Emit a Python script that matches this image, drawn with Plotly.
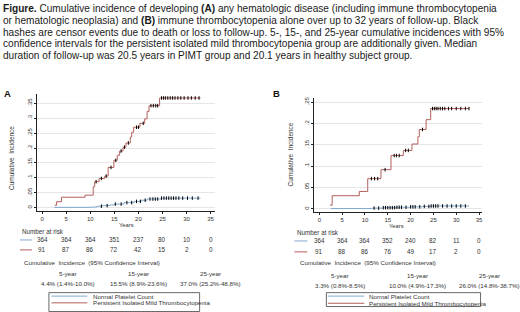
import numpy as np
import plotly.graph_objects as go

W, H = 520, 312

# ---------------- data ----------------
years_ticks = [0, 5, 10, 15, 20, 25, 30, 35]

# Panel A: any hematologic disease
a_red_t = [2.6, 3.0, 4.0, 8.9, 10.6, 10.9, 11.8, 13.0, 13.7, 14.9, 15.6, 16.1, 16.8, 17.4, 18.3, 18.6, 19.0, 20.3, 21.3, 21.8, 22.2, 24.4, 32.9]
a_red_v = [0.008, 0.02, 0.035, 0.042, 0.07, 0.087, 0.098, 0.106, 0.135, 0.159, 0.176, 0.19, 0.203, 0.217, 0.237, 0.253, 0.27, 0.283, 0.298, 0.323, 0.342, 0.368, 0.368]
a_blue_t = [2.5, 10.0, 11.4, 12.5, 14.0, 14.9, 17.0, 19.1, 20.6, 21.8, 24.7, 32.9]
a_blue_v = [0.001, 0.002, 0.005, 0.007, 0.009, 0.012, 0.017, 0.021, 0.025, 0.029, 0.032, 0.032]
a_red_cens = [11.2, 12.3, 13.3, 14.3, 15.3, 16.4, 17.1, 17.9, 19.6, 20.0, 21.0, 22.6, 23.1, 23.6, 24.0, 24.8, 25.2, 25.6, 26.1, 26.6, 27.1, 27.6, 28.2, 28.8, 29.5, 30.3, 31.0, 31.8, 32.6]
a_blue_cens = [12.3, 13.5, 15.2, 16.4, 17.6, 18.6, 19.6, 20.4, 21.4, 22.4, 23.0, 23.5, 24.0, 24.8, 25.3, 25.8, 26.3, 26.8, 27.3, 27.8, 28.4, 29.2, 30.2, 31.2, 32.4]
a_risk_blue = [364, 364, 364, 351, 237, 80, 10, 0]
a_risk_red = [91, 87, 86, 72, 42, 15, 2, 0]
a_ci_labels = ["5-year", "15-year", "25-year"]
a_ci_values = ["4.4% (1.4%-10.0%)", "15.5% (8.9%-23.6%)", "37.0% (25.2%-48.8%)"]
a_yticks = [0, 0.05, 0.1, 0.15, 0.2, 0.25, 0.3, 0.35]
a_yticktext = ["0", ".05", ".1", ".15", ".2", ".25", ".3", ".35"]

# Panel B: immune thrombocytopenia alone
b_red_t = [2.3, 2.8, 8.75, 10.6, 13.5, 15.7, 18.4, 20.3, 21.6, 21.9, 23.4, 24.4, 32.8]
b_red_v = [0.009, 0.031, 0.041, 0.071, 0.092, 0.125, 0.137, 0.152, 0.169, 0.186, 0.209, 0.235, 0.235]
b_blue_t = [2.5, 11.5, 14.0, 17.0, 20.0, 22.5, 24.5, 32.8]
b_blue_v = [0.001, 0.002, 0.003, 0.004, 0.005, 0.006, 0.007, 0.007]
b_red_cens = [11.4, 12.1, 12.8, 14.4, 16.4, 16.9, 17.5, 18.9, 19.5, 22.6, 24.8, 25.2, 25.6, 26.0, 26.5, 27.0, 27.5, 28.3, 29.0, 30.0, 31.0, 32.0, 32.8]
b_blue_cens = [12.0, 13.0, 14.0, 14.5, 15.0, 15.5, 16.0, 16.5, 17.0, 17.5, 18.0, 19.0, 20.0, 20.5, 21.0, 22.0, 23.0, 24.0, 24.5, 25.0, 25.5, 26.0, 27.0, 28.0, 29.0, 30.0, 31.0, 32.0]
b_risk_blue = [364, 364, 364, 352, 240, 82, 11, 0]
b_risk_red = [91, 88, 86, 76, 49, 17, 2, 0]
b_ci_labels = ["5-year", "15-year", "25-year"]
b_ci_values = ["3.3% (0.8%-8.5%)", "10.0% (4.9%-17.3%)", "26.0% (14.8%-38.7%)"]
b_yticks = [0, 0.05, 0.1, 0.15, 0.2, 0.25]
b_yticktext = ["0", ".05", ".1", ".15", ".2", ".25"]

series_names = ["Normal Platelet Count", "Persistent Isolated Mild Thrombocytopenia"]

caption_lines = [
    "<b>Figure.</b> Cumulative incidence of developing <b>(A)</b> any hematologic disease (including immune thrombocytopenia",
    "or hematologic neoplasia) and <b>(B)</b> immune thrombocytopenia alone over up to 32 years of follow-up. Black",
    "hashes are censor events due to death or loss to follow-up. 5-, 15-, and 25-year cumulative incidences with 95%",
    "confidence intervals for the persistent isolated mild thrombocytopenia group are additionally given. Median",
    "duration of follow-up was 20.5 years in PIMT group and 20.1 years in healthy subject group.",
]

BLUE = "#7fa8cf"
RED = "#b3605c"
TXT = "#333333"
FONT = "Liberation Sans, Arial, sans-serif"


def X(px):
    return px / W


def Y(py):
    return 1 - py / H


def step_at(t, v, q):
    t = np.asarray(t)
    v = np.asarray(v)
    idx = np.searchsorted(t, np.asarray(q), side="right") - 1
    idx = np.clip(idx, 0, len(v) - 1)
    return v[idx]


fig = go.Figure()

panels = [
    dict(xa="x", ya="y", red=(a_red_t, a_red_v), blue=(a_blue_t, a_blue_v),
         rc=a_red_cens, bc=a_blue_cens),
    dict(xa="x2", ya="y2", red=(b_red_t, b_red_v), blue=(b_blue_t, b_blue_v),
         rc=b_red_cens, bc=b_blue_cens),
]

for p in panels:
    fig.add_trace(go.Scatter(x=p["blue"][0], y=p["blue"][1], mode="lines",
                             line=dict(color=BLUE, width=1, shape="hv"),
                             name=series_names[0], xaxis=p["xa"], yaxis=p["ya"], showlegend=False))
    fig.add_trace(go.Scatter(x=p["red"][0], y=p["red"][1], mode="lines",
                             line=dict(color=RED, width=1, shape="hv"),
                             name=series_names[1], xaxis=p["xa"], yaxis=p["ya"], showlegend=False))
    for cens, (t, v) in ((p["bc"], p["blue"]), (p["rc"], p["red"])):
        fig.add_trace(go.Scatter(x=cens, y=step_at(t, v, cens), mode="markers",
                                 marker=dict(symbol="line-ns", size=2.5, line=dict(color="black", width=1)),
                                 xaxis=p["xa"], yaxis=p["ya"], showlegend=False, hoverinfo="skip"))

axis_common = dict(showline=True, linecolor="#222", linewidth=1, ticks="outside",
                   ticklen=2, tickcolor="#222", tickfont=dict(size=6, color=TXT, family=FONT),
                   zeroline=False)

# Panel A axes (pixel geometry)
a_xpx = (37, 215)
a_ypx = (93, 210)
a_x0, a_xscale = 42.3, 4.82
a_y0, a_yscale = 207.0, 300.0
# Panel B axes
b_xpx = (315, 483)
b_ypx = (97, 211)
b_x0, b_xscale = 320.0, 4.57
b_y0, b_yscale = 208.3, 430.0

fig.update_layout(
    xaxis=dict(domain=[X(a_xpx[0]), X(a_xpx[1])],
               range=[(a_xpx[0] - a_x0) / a_xscale, (a_xpx[1] - a_x0) / a_xscale],
               tickvals=years_ticks, showgrid=False, anchor="y", **axis_common),
    yaxis=dict(domain=[Y(a_ypx[1]), Y(a_ypx[0])],
               range=[(a_y0 - a_ypx[1]) / a_yscale, (a_y0 - a_ypx[0]) / a_yscale],
               tickvals=a_yticks, ticktext=a_yticktext, tickangle=-90,
               showgrid=True, gridcolor="#e6e6e6", gridwidth=1, anchor="x", **axis_common),
    xaxis2=dict(domain=[X(b_xpx[0]), X(b_xpx[1])],
                range=[(b_xpx[0] - b_x0) / b_xscale, (b_xpx[1] - b_x0) / b_xscale],
                tickvals=years_ticks, showgrid=False, anchor="y2", **axis_common),
    yaxis2=dict(domain=[Y(b_ypx[1]), Y(b_ypx[0])],
                range=[(b_y0 - b_ypx[1]) / b_yscale, (b_y0 - b_ypx[0]) / b_yscale],
                tickvals=b_yticks, ticktext=b_yticktext, tickangle=-90,
                showgrid=True, gridcolor="#e6e6e6", gridwidth=1, anchor="x2", **axis_common),
)

ann = []
shapes = []


def text(px, py, s, size, xanchor="left", color=TXT, angle=0, xref="paper", xval=None):
    ann.append(dict(x=X(px) if xval is None else xval, y=Y(py), xref=xref, yref="paper",
                    text=s, showarrow=False, xanchor=xanchor, yanchor="middle",
                    textangle=angle, font=dict(size=size, color=color, family=FONT)))


# Caption
cap_y = [7, 18.6, 30.2, 41.8, 53.4]
for line, yy in zip(caption_lines, cap_y):
    text(1, yy, line, 10.1, color="#1a1a1a")

# Panel letters
text(2, 92, "<b>A</b>", 9.5, color="#111")
text(272, 92, "<b>B</b>", 9.5, color="#111")

# Axis titles
text(12, 157, "Cumulative  Incidence", 6.5, xanchor="center", angle=-90)
text(291, 153, "Cumulative  Incidence", 6.5, xanchor="center", angle=-90)
text(127, 224.5, "Years", 5.8, xanchor="center")
text(397, 225, "Years", 5.8, xanchor="center")

# Risk tables / CI text
tables = [
    dict(xref="x", risk_title=(20, 230.5), blue_y=239.5, red_y=249.5, line_x=(20, 32),
         b=a_risk_blue, r=a_risk_red, ci_title=(22, 262), ci_lab_y=273.5, ci_val_y=283.5,
         ci_x=[68.5, 138.5, 211], labs=a_ci_labels, vals=a_ci_values,
         box=(49, 292.5, 200, 311.5), leg_line=(51.5, 87.5), leg_y=(296, 302.8), leg_tx=91.5),
    dict(xref="x2", risk_title=(296, 231.5), blue_y=240.5, red_y=251.5, line_x=(295, 308),
         b=b_risk_blue, r=b_risk_red, ci_title=(299, 262.5), ci_lab_y=275, ci_val_y=285,
         ci_x=[341, 418.5, 490], labs=b_ci_labels, vals=b_ci_values,
         box=(327, 292.5, 481.5, 306.5), leg_line=(328.5, 365), leg_y=(296, 303.2), leg_tx=368),
]

for tb in tables:
    text(tb["risk_title"][0], tb["risk_title"][1], "Number at risk", 6.3)
    for yy, col, vals in ((tb["blue_y"], BLUE, tb["b"]), (tb["red_y"], RED, tb["r"])):
        shapes.append(dict(type="line", xref="paper", yref="paper",
                           x0=X(tb["line_x"][0]), x1=X(tb["line_x"][1]), y0=Y(yy), y1=Y(yy),
                           line=dict(color=col, width=1)))
        for t, v in zip(years_ticks, vals):
            text(0, yy, str(v), 6.3, xanchor="center", xref=tb["xref"], xval=t)
    text(tb["ci_title"][0], tb["ci_title"][1], "Cumulative  Incidence  (95% Confidence Interval)", 6.2)
    for cx, lab, val in zip(tb["ci_x"], tb["labs"], tb["vals"]):
        text(cx, tb["ci_lab_y"], lab, 6.2, xanchor="center")
        text(cx, tb["ci_val_y"], val, 6.2, xanchor="center")
    bx0, by0, bx1, by1 = tb["box"]
    shapes.append(dict(type="rect", xref="paper", yref="paper", x0=X(bx0), x1=X(bx1),
                       y0=Y(by1), y1=Y(by0), line=dict(color="#444", width=0.8)))
    for yy, col, nm in zip(tb["leg_y"], (BLUE, RED), series_names):
        shapes.append(dict(type="line", xref="paper", yref="paper",
                           x0=X(tb["leg_line"][0]), x1=X(tb["leg_line"][1]), y0=Y(yy), y1=Y(yy),
                           line=dict(color=col, width=1)))
        text(tb["leg_tx"], yy, nm, 6.2)

fig.update_layout(
    width=W, height=H, margin=dict(l=0, r=0, t=0, b=0),
    paper_bgcolor="white", plot_bgcolor="white",
    annotations=ann, shapes=shapes, showlegend=False,
    font=dict(family=FONT),
)

fig.write_html("out.html", config={"displayModeBar": False},
               post_script="document.body.style.margin='0';document.body.style.padding='0';")
